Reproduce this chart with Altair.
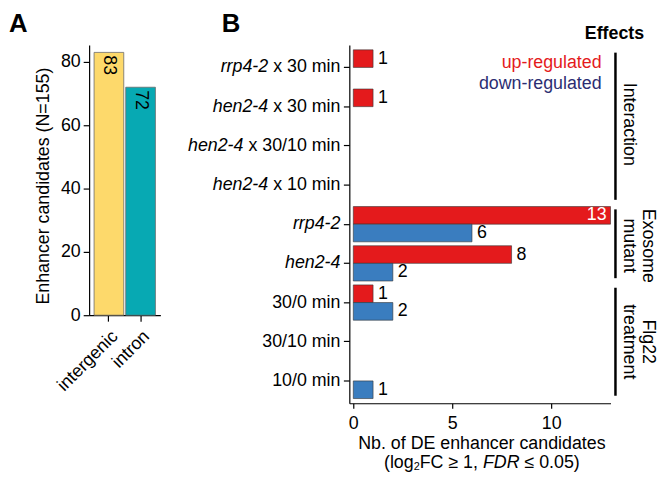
import altair as alt
import pandas as pd

# ---------------- data ----------------
a_cats = ["intergenic", "intron"]
a_vals = [83, 72]
a_colors = ["#FDD96B", "#07A9B3"]

b_cats = ["rrp4-2 x 30 min", "hen2-4 x 30 min", "hen2-4 x 30/10 min", "hen2-4 x 10 min",
          "rrp4-2", "hen2-4", "30/0 min", "30/10 min", "10/0 min"]
b_italic = ["rrp4-2", "hen2-4", "hen2-4", "hen2-4", "rrp4-2", "hen2-4", "", "", ""]
b_plain = [" x 30 min", " x 30 min", " x 30/10 min", " x 10 min", "", "", "30/0 min", "30/10 min", "10/0 min"]
b_up = [1, 1, 0, 0, 13, 8, 1, 0, 0]
b_down = [0, 0, 0, 0, 6, 2, 2, 0, 1]
effects = ["up-regulated", "down-regulated"]
effect_colors = ["#E41A1C", "#3A7DBF"]
legend_colors = ["#E41A1C", "#2B2D72"]

strip_lines = [["", "Interaction"], ["Exosome", "mutant"], ["Flg22", "treatment"]]
strip_first = ["rrp4-2 x 30 min", "rrp4-2", "30/0 min"]
strip_last = ["hen2-4 x 10 min", "hen2-4", "10/0 min"]
strip_anchor = ["hen2-4 x 30 min", "hen2-4", "30/10 min"]
strip_band = [1.0, 0.0, 0.5]

FONT = "Liberation Sans"
FS = 18

# Arial / Liberation Sans advance widths (per 1000 em) for label layout
ADV = {' ': 278, 'x': 500, '3': 556, '0': 556, '1': 556, '/': 278, 'm': 833, 'i': 222,
       'n': 556, '(': 333, ')': 333, 'l': 222, 'o': 556, 'g': 556, 'F': 611, 'C': 722,
       '≥': 549, ',': 278, 'D': 722, 'R': 722, '≤': 549, '.': 278, '5': 556, '2': 556}


def tw(s, size):
    return sum(ADV.get(c, 556) for c in s) * size / 1000.0


TOP = -34  # letters' top relative to the plot areas

# ---------------- panel A ----------------
a_df = pd.DataFrame({"cat": a_cats, "v": a_vals})
yA_scale = alt.Scale(domain=[0, 85.3], nice=False)
xA_scale = alt.Scale(domain=a_cats, paddingInner=0.0625, paddingOuter=0.156)
xA_axis = alt.Axis(title=None, labelAngle=-45, labelFontSize=FS, tickSize=6, labelPadding=6)
yA_axis = alt.Axis(values=[0, 20, 40, 60, 80], title="Enhancer candidates (N=155)",
                   titleFontSize=FS, titleFontWeight="normal", labelFontSize=FS,
                   tickSize=6, labelPadding=3, titlePadding=8, titleY=142, grid=False)

barsA = alt.Chart(a_df).mark_bar(stroke="#6b6b6b", strokeWidth=0.8).encode(
    x=alt.X("cat:N", scale=xA_scale, axis=xA_axis),
    y=alt.Y("v:Q", scale=yA_scale, axis=yA_axis),
    color=alt.Color("cat:N", scale=alt.Scale(domain=a_cats, range=a_colors), legend=None))
labA = alt.Chart(a_df).mark_text(angle=90, align="left", baseline="middle", dx=3,
                                 fontSize=FS, color="black").encode(
    x=alt.X("cat:N", scale=xA_scale, axis=xA_axis),
    y=alt.Y("v:Q", scale=yA_scale, axis=yA_axis),
    text="v:Q")
letterA = alt.Chart(pd.DataFrame({"t": ["A"]})).mark_text(
    align="left", baseline="top", fontSize=26, fontWeight="bold", color="black").encode(
    x=alt.value(-81), y=alt.value(TOP), text="t:N")
panelA = alt.layer(barsA, labA, letterA).properties(width=72, height=273)

# ---------------- panel B ----------------
rows = []
for c, u, d in zip(b_cats, b_up, b_down):
    if u > 0:
        rows.append({"cat": c, "effect": effects[0], "n": u})
    if d > 0:
        rows.append({"cat": c, "effect": effects[1], "n": d})
b_df = pd.DataFrame(rows)
nmax = max(b_up + b_down)

yB_scale = alt.Scale(domain=b_cats, paddingInner=0.1, paddingOuter=0.12)
xB_scale = alt.Scale(domain=[-0.2, 13], nice=False)
yB_axis = alt.Axis(labels=False, title=None, tickSize=6)
xB_axis = alt.Axis(values=[0, 5, 10], title=None, labelFontSize=FS, tickSize=5,
                   labelPadding=7, grid=False)
yoff = alt.YOffset("effect:N", scale=alt.Scale(domain=effects, paddingInner=0, paddingOuter=0))


def YB(field="cat", **kw):
    return alt.Y(f"{field}:N", scale=yB_scale, axis=yB_axis, **kw)


def XB():
    return alt.X("n:Q", scale=xB_scale, axis=xB_axis)


barsB = alt.Chart(b_df).mark_bar(stroke="#333333", strokeWidth=0.6).encode(
    y=YB(), yOffset=yoff, x=XB(), x2=alt.datum(0),
    color=alt.Color("effect:N", scale=alt.Scale(domain=effects, range=effect_colors),
                    legend=None))

labB = alt.Chart(b_df).transform_filter(f"datum.n < {nmax}").mark_text(
    align="left", baseline="middle", dx=5, fontSize=FS, color="black").encode(
    y=YB(), yOffset=yoff, x=XB(), text="n:Q")
labBin = alt.Chart(b_df).transform_filter(f"datum.n >= {nmax}").mark_text(
    align="right", baseline="middle", dx=-4, fontSize=FS, color="white").encode(
    y=YB(), yOffset=yoff, x=XB(), text="n:Q")

layersB = [barsB, labB, labBin]

# y tick labels: plain part and italic part
plain_df = pd.DataFrame({"cat": [c for c, p in zip(b_cats, b_plain) if p],
                         "t": [p.strip() for p in b_plain if p]})
layersB.append(alt.Chart(plain_df).mark_text(
    align="right", baseline="middle", fontSize=FS, color="black").encode(
    x=alt.value(-9), y=YB(), text="t:N"))
ital = {}
for c, it, p in zip(b_cats, b_italic, b_plain):
    if it:
        off = round(-9 - tw(p, FS), 2)
        ital.setdefault(off, []).append((c, it))
for off, lst in ital.items():
    df = pd.DataFrame({"cat": [c for c, _ in lst], "t": [t for _, t in lst]})
    layersB.append(alt.Chart(df).mark_text(
        align="right", baseline="middle", fontSize=FS, fontStyle="italic",
        color="black").encode(x=alt.value(off), y=YB(), text="t:N"))


def fixed_text(t, x, y, **kw):
    return alt.Chart(pd.DataFrame({"t": [t]})).mark_text(**kw).encode(
        x=alt.value(x), y=alt.value(y), text="t:N")


# legend-like texts
layersB.append(fixed_text("Effects", 298, -6, align="right", baseline="alphabetic",
                          fontSize=FS, fontWeight="bold", color="black"))
layersB.append(fixed_text(effects[0], 255, 23, align="right", baseline="alphabetic",
                          fontSize=FS, color=legend_colors[0]))
layersB.append(fixed_text(effects[1], 255, 44, align="right", baseline="alphabetic",
                          fontSize=FS, color=legend_colors[1]))

# strips
strip_df = pd.DataFrame({"cat": strip_first, "last": strip_last})
layersB.append(alt.Chart(strip_df).mark_rule(strokeWidth=2.5, color="black",
                                             strokeCap="butt").encode(
    x=alt.value(269), y=YB(bandPosition=0.08), y2=alt.Y2("last:N", bandPosition=0.92)))
for lines, anc, bp in zip(strip_lines, strip_anchor, strip_band):
    for t, xpos in zip(lines, [297, 278]):
        if not t:
            continue
        layersB.append(alt.Chart(pd.DataFrame({"cat": [anc], "t": [t]})).mark_text(
            angle=90, align="center", baseline="alphabetic",
            fontSize=FS, color="black").encode(
            x=alt.value(xpos), y=YB(bandPosition=bp), text="t:N"))

# x title (two lines, with subscript and italic)
layersB.append(fixed_text("Nb. of DE enhancer candidates", 134, 408, align="center",
                          baseline="alphabetic", fontSize=FS, color="black"))
pieces = [("(log", FS, "normal", 0), ("2", 11, "normal", 2), ("FC ≥ 1, ", FS, "normal", 0),
          ("FDR", FS, "italic", 0), (" ≤ 0.05)", FS, "normal", 0)]
total = sum(tw(s, sz) for s, sz, _, _ in pieces)
cx = 134 - total / 2
for s, sz, st, dy in pieces:
    lead = len(s) - len(s.lstrip(" "))
    layersB.append(fixed_text(s.strip(), round(cx + tw(" " * lead, sz), 2), 427 + dy,
                              align="left", baseline="alphabetic", fontSize=sz,
                              fontStyle=st, color="black"))
    cx += tw(s, sz)

layersB.append(fixed_text("B", -129, TOP, align="left", baseline="top", fontSize=26,
                          fontWeight="bold", color="black"))

panelB = alt.layer(*layersB).properties(width=264, height=362)

chart = alt.hconcat(panelA, panelB, spacing=191, bounds="flush").resolve_scale(
    color="independent"
).properties(
    padding=0
).configure(font=FONT).configure_view(stroke="transparent").configure_axis(
    domainColor="black", tickColor="black", labelColor="black", titleColor="black",
    domainWidth=1.2, tickWidth=1.2, grid=False, labelFont=FONT, titleFont=FONT)

chart.save("out.html", embed_options={"renderer": "svg", "actions": False})
